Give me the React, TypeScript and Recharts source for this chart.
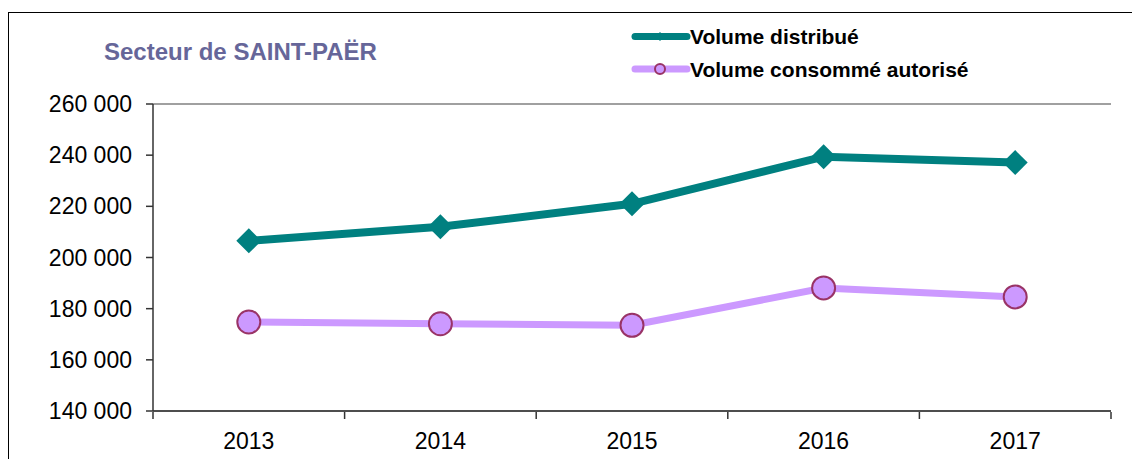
import React from 'react';
import { LineChart, Line, XAxis, YAxis, CartesianGrid } from 'recharts';

const years = ['2013', '2014', '2015', '2016', '2017'];
const volumeDistribue = [206500, 212000, 221000, 239400, 237100];
const volumeConsomme = [174800, 174100, 173500, 188100, 184600];
const yTicks = [140000, 160000, 180000, 200000, 220000, 240000, 260000];

const TEAL = '#008080';
const LAVENDER = '#CC99FF';
const PLUM = '#993366';
const FONT = 'Arial, "Liberation Sans", sans-serif';

const data = years.map((year, i) => ({
  year,
  distribue: volumeDistribue[i],
  consomme: volumeConsomme[i],
}));

const CHART_W = 1132;
const CHART_H = 459;
const margin = { top: 104, right: 21, bottom: 0, left: 0 };
const Y_AXIS_W = 153;
const X_AXIS_H = 48;
const bandWidth = (CHART_W - margin.right - Y_AXIS_W) / years.length;

const formatTick = (v: number) => {
  const s = String(v);
  return s.slice(0, s.length - 3) + ' ' + s.slice(-3);
};

const Diamond = ({ cx, cy }: any) => {
  if (cx == null || cy == null) return null;
  const r = 12.5;
  return (
    <polygon
      points={`${cx},${cy - r} ${cx + r},${cy} ${cx},${cy + r} ${cx - r},${cy}`}
      fill={TEAL}
    />
  );
};

const Bubble = ({ cx, cy }: any) => {
  if (cx == null || cy == null) return null;
  return <circle cx={cx} cy={cy} r={11.5} fill={LAVENDER} stroke={PLUM} strokeWidth={2} />;
};

const YearTick = ({ x, y, payload, index }: any) => {
  const left = x - bandWidth / 2;
  return (
    <g>
      <line x1={left} y1={y - 7} x2={left} y2={y} stroke="#333" strokeWidth={1.5} />
      {index === years.length - 1 && (
        <line x1={left + bandWidth} y1={y - 7} x2={left + bandWidth} y2={y} stroke="#333" strokeWidth={1.5} />
      )}
      <text x={x} y={y + 22} textAnchor="middle" dominantBaseline="central" fontSize={23} fontFamily={FONT} fill="#000">
        {payload.value}
      </text>
    </g>
  );
};

export default function App() {
  return (
    <div style={{ position: 'absolute', left: 0, top: 0, width: CHART_W, height: CHART_H, background: '#fff', overflow: 'hidden' }}>
      <div
        style={{
          position: 'absolute',
          left: 8,
          top: 12,
          width: CHART_W,
          height: CHART_H,
          borderTop: '1.5px solid #000',
          borderLeft: '1.5px solid #000',
        }}
      />
      <div
        style={{
          position: 'absolute',
          left: 104,
          top: 36,
          fontFamily: FONT,
          fontWeight: 'bold',
          fontSize: 24,
          color: '#666699',
          lineHeight: '32px',
        }}
      >
        Secteur de SAINT-PAËR
      </div>
      <svg style={{ position: 'absolute', left: 0, top: 0 }} width={CHART_W} height={100}>
        <line x1={635} y1={36.5} x2={687} y2={36.5} stroke={TEAL} strokeWidth={7} strokeLinecap="round" />
        <polygon points="660,32 664.5,36.5 660,41 655.5,36.5" fill={TEAL} />
        <text x={690} y={36.5} dominantBaseline="central" fontSize={21} fontWeight="bold" fontFamily={FONT} fill="#000">
          Volume distribué
        </text>
        <line x1={635} y1={69} x2={687} y2={69} stroke={LAVENDER} strokeWidth={7} strokeLinecap="round" />
        <circle cx={660} cy={69} r={5} fill={LAVENDER} stroke={PLUM} strokeWidth={2} />
        <text x={690} y={69} dominantBaseline="central" fontSize={21} fontWeight="bold" fontFamily={FONT} fill="#000">
          Volume consommé autorisé
        </text>
      </svg>
      <div style={{ position: 'absolute', left: 0, top: 0 }}>
        <LineChart width={CHART_W} height={CHART_H} data={data} margin={margin}>
          <CartesianGrid vertical={false} stroke="#808080" strokeWidth={1.5} />
          <XAxis
            dataKey="year"
            height={X_AXIS_H}
            padding={{ left: bandWidth / 2, right: bandWidth / 2 }}
            tickLine={false}
            axisLine={{ stroke: '#333', strokeWidth: 1.5 }}
            tick={<YearTick />}
            interval={0}
          />
          <YAxis
            yAxisId="left"
            width={Y_AXIS_W}
            domain={[140000, 260000]}
            ticks={yTicks}
            tickFormatter={formatTick}
            tickSize={7}
            tickMargin={14}
            tickLine={{ stroke: '#333', strokeWidth: 1.5 }}
            axisLine={{ stroke: '#333', strokeWidth: 1.5 }}
            tick={{ fontSize: 23, fontFamily: FONT, fill: '#000' }}
          />
          <YAxis
            yAxisId="right"
            orientation="right"
            width={0}
            domain={[140000, 260000]}
            ticks={yTicks}
            tick={false}
            tickLine={false}
            axisLine={{ stroke: '#808080', strokeWidth: 3 }}
          />
          <Line
            yAxisId="left"
            type="linear"
            dataKey="consomme"
            stroke={LAVENDER}
            strokeWidth={7}
            dot={<Bubble />}
            activeDot={false}
            isAnimationActive={false}
          />
          <Line
            yAxisId="left"
            type="linear"
            dataKey="distribue"
            stroke={TEAL}
            strokeWidth={8}
            dot={<Diamond />}
            activeDot={false}
            isAnimationActive={false}
          />
        </LineChart>
      </div>
    </div>
  );
}
